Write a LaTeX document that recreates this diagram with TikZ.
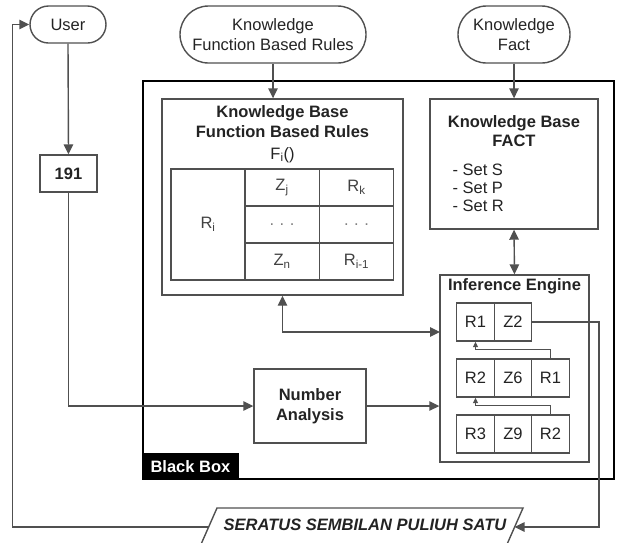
\documentclass[tikz,border=0pt]{standalone}
\usepackage{fontspec}
\setmainfont{Liberation Sans}
\usetikzlibrary{arrows.meta,shapes.misc}
\definecolor{linegray}{RGB}{80,80,80}
\definecolor{inkgray}{RGB}{35,35,35}
\definecolor{softink}{RGB}{65,65,65}

\begin{document}
\begin{tikzpicture}[x=1pt,y=-1pt,
  every node/.style={font=\fontsize{16.5}{20}\selectfont, text=inkgray},
  conn/.style={draw=linegray, line width=1.4pt},
  thinconn/.style={draw=linegray, line width=1pt},
  tip/.style={-{Triangle[length=10pt,width=9.5pt]}},
  bitip/.style={{Triangle[length=10pt,width=9.5pt]}-{Triangle[length=10pt,width=9.5pt]}},
  smalltip/.style={-{Triangle[length=5.5pt,width=5pt]}},
  pill/.style={rounded rectangle, draw=linegray, line width=1.4pt, inner sep=0pt, align=center},
  box/.style={rectangle, draw=linegray, line width=1.4pt, inner sep=0pt, align=center},
  iecell/.style={box, minimum width=37.5pt, minimum height=38pt},
  tcell/.style={box, minimum width=74.5pt, minimum height=37pt, text=softink},
  boldtext/.style={font=\fontsize{16.5}{19}\selectfont\bfseries, align=center}
]
\useasboundingbox (0,0) rectangle (617,542);
\clip (0,0) rectangle (617,542);

% outer black box and its tag
\node[rectangle, draw=black, line width=2.5pt, minimum width=471pt, minimum height=398pt, inner sep=0pt]
  (bb) at (378.5,280) {};
\node[rectangle, fill=black, anchor=south west, minimum width=97pt, minimum height=27pt, inner sep=0pt,
  text=white, font=\fontsize{16.5}{19}\selectfont\bfseries] (bblabel) at (bb.south west) {Black Box};

% sources
\node[pill, minimum width=76pt, minimum height=37pt] (user) at (68,24.5) {User};
\node[pill, minimum width=186pt, minimum height=57pt, font=\fontsize{16.5}{20}\selectfont] (kfr) at (273,34.5)
  {Knowledge\\Function Based Rules};
\node[pill, minimum width=112pt, minimum height=57pt, font=\fontsize{16.5}{20}\selectfont] (kf) at (514,34.5)
  {Knowledge\\Fact};

% input number
\node[box, minimum width=57pt, minimum height=37pt, font=\fontsize{16.5}{19}\selectfont\bfseries] (n191) at (68.5,173.5) {191};

% knowledge base of function based rules
\node[box, minimum width=241pt, minimum height=196pt] (kbr) at (282.5,197) {};
\node[boldtext, font=\fontsize{16.5}{20}\selectfont\bfseries] (kbrtitle) at (282.5,122) {Knowledge Base\\Function Based Rules};
\node (fi) at (282.5,155) {F\textsubscript{i}()};
\node[box, minimum width=74pt, minimum height=111pt, text=softink] (ri) at (208,224.5) {R\textsubscript{i}};
\node[tcell] (zj) at (282,187.5) {Z\textsubscript{j}};
\node[tcell] (rk) at (356.5,187.5) {R\textsubscript{k}};
\node[tcell, text=gray] (d1) at (282,224.5) {.\,\,.\,\,.};
\node[tcell, text=gray] (d2) at (356.5,224.5) {.\,\,.\,\,.};
\node[tcell] (zn) at (282,261.5) {Z\textsubscript{n}};
\node[tcell] (rim) at (356.5,261.5) {R\textsubscript{i-1}};

% knowledge base of facts
\node[box, minimum width=168pt, minimum height=130pt] (kbfact) at (514,164) {};
\node[boldtext, font=\fontsize{16.5}{19}\selectfont\bfseries] (facttitle) at (514,131) {Knowledge Base\\FACT};
\node[anchor=west, align=left, font=\fontsize{16.5}{18}\selectfont] (sets) at (449,188) {- Set S\\- Set P\\- Set R};

% inference engine
\node[box, minimum width=149pt, minimum height=187pt] (ie) at (514.5,368.5) {};
\node[boldtext] (ietitle) at (514.5,286) {Inference Engine};
\node[iecell] (c11) at (475.5,322) {R1};
\node[iecell] (c12) at (513,322) {Z2};
\node[iecell] (c21) at (475.5,378) {R2};
\node[iecell] (c22) at (513,378) {Z6};
\node[iecell] (c23) at (550.5,378) {R1};
\node[iecell] (c31) at (475.5,434) {R3};
\node[iecell] (c32) at (513,434) {Z9};
\node[iecell] (c33) at (550.5,434) {R2};

% number analysis
\node[box, minimum width=112pt, minimum height=74pt, font=\fontsize{16.5}{20}\selectfont\bfseries] (na) at (310,406)
  {Number\\Analysis};

% output
\draw[conn] (217,508) -- (523,508) -- (503.6,552) -- (197.6,552) -- cycle;
\node[font=\fontsize{16.5}{19}\selectfont\bfseries\itshape] (out) at (365,525) {SERATUS SEMBILAN PULIUH SATU};
\coordinate (outl) at (208.6,527);
\coordinate (outr) at (514.6,527);
\coordinate (backl) at (12.7,527);
\coordinate (backr) at (599,527);
\coordinate (iekb) at (440,332);

% connectors
\draw[conn,tip] (user.south) -- (n191.north);
\draw[conn,tip] (n191.south) |- (na.west);
\draw[conn,tip] (na.east) -- (na.east -| ie.west);
\draw[conn,tip] (kfr.south) -- (kfr.south |- kbr.north);
\draw[conn,tip] (kf.south) -- (kbfact.north);
\draw[conn,bitip] (kbfact.south) -- (ie.north);
\draw[conn,bitip] (kbr.south) |- (iekb);
\draw[thinconn,smalltip] (c23.north) -- ++(0,-9) -| (c11.south);
\draw[thinconn,smalltip] (c33.north) -- ++(0,-9) -| (c21.south);
\draw[conn,tip] (c12.east) -| (backr) -- (outr);
\draw[conn,tip] (outl) -- (backl) |- (user.west);
\end{tikzpicture}
\end{document}
